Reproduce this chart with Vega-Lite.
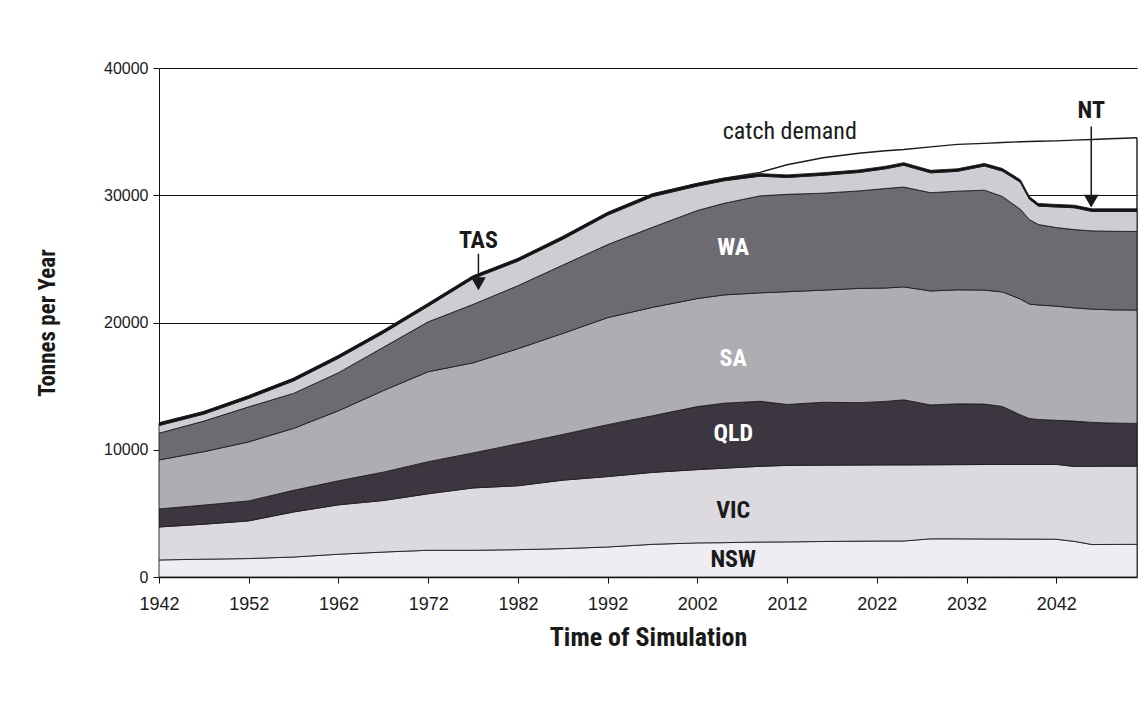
{
  "$schema": "https://vega.github.io/schema/vega-lite/v6.json",
  "autosize": {"type": "none"},
  "width": 978,
  "height": 509,
  "padding": {"left": 159, "top": 68, "right": 10, "bottom": 129},
  "background": "white",
  "config": {
    "font": "Roboto Condensed, DejaVu Sans Condensed, Liberation Sans Narrow, Liberation Sans, sans-serif",
    "view": {"stroke": null},
    "axis": {
      "domainColor": "#111111",
      "tickColor": "#111111",
      "labelColor": "#1a1a1a",
      "titleColor": "#1a1a1a",
      "labelFont": "Liberation Sans",
      "titleFont": "Roboto Condensed, DejaVu Sans Condensed, Liberation Sans Narrow, Liberation Sans, sans-serif",
      "titleFontWeight": "bold",
      "titleFontSize": 23
    }
  },
  "datasets": {
    "catch": [
      {"year": 1942, "NSW": 1340, "VIC": 2590, "QLD": 1420, "SA": 3850, "WA": 2100, "TAS": 600, "NT": 200, "demand": 12100},
      {"year": 1947, "NSW": 1400, "VIC": 2750, "QLD": 1500, "SA": 4200, "WA": 2400, "TAS": 550, "NT": 200, "demand": 13000},
      {"year": 1952, "NSW": 1450, "VIC": 2960, "QLD": 1570, "SA": 4640, "WA": 2750, "TAS": 670, "NT": 200, "demand": 14240},
      {"year": 1957, "NSW": 1570, "VIC": 3540, "QLD": 1700, "SA": 4870, "WA": 2750, "TAS": 980, "NT": 200, "demand": 15610},
      {"year": 1962, "NSW": 1790, "VIC": 3880, "QLD": 1890, "SA": 5500, "WA": 2990, "TAS": 1140, "NT": 200, "demand": 17390},
      {"year": 1967, "NSW": 1960, "VIC": 4050, "QLD": 2230, "SA": 6410, "WA": 3400, "TAS": 1110, "NT": 200, "demand": 19360},
      {"year": 1972, "NSW": 2100, "VIC": 4440, "QLD": 2520, "SA": 7070, "WA": 3920, "TAS": 1230, "NT": 200, "demand": 21480},
      {"year": 1977, "NSW": 2100, "VIC": 4900, "QLD": 2750, "SA": 7080, "WA": 4590, "TAS": 2030, "NT": 200, "demand": 23650},
      {"year": 1982, "NSW": 2150, "VIC": 5020, "QLD": 3300, "SA": 7470, "WA": 4950, "TAS": 1930, "NT": 200, "demand": 25020},
      {"year": 1987, "NSW": 2230, "VIC": 5380, "QLD": 3590, "SA": 7940, "WA": 5370, "TAS": 2030, "NT": 200, "demand": 26740},
      {"year": 1992, "NSW": 2360, "VIC": 5530, "QLD": 4080, "SA": 8410, "WA": 5740, "TAS": 2320, "NT": 200, "demand": 28640},
      {"year": 1997, "NSW": 2570, "VIC": 5650, "QLD": 4450, "SA": 8520, "WA": 6290, "TAS": 2420, "NT": 200, "demand": 30100},
      {"year": 2002, "NSW": 2680, "VIC": 5760, "QLD": 4950, "SA": 8490, "WA": 6920, "TAS": 1920, "NT": 200, "demand": 30920},
      {"year": 2005, "NSW": 2700, "VIC": 5850, "QLD": 5110, "SA": 8510, "WA": 7200, "TAS": 1770, "NT": 200, "demand": 31340},
      {"year": 2009, "NSW": 2750, "VIC": 5950, "QLD": 5110, "SA": 8520, "WA": 7620, "TAS": 1550, "NT": 200, "demand": 31800},
      {"year": 2012, "NSW": 2760, "VIC": 6010, "QLD": 4790, "SA": 8860, "WA": 7650, "TAS": 1330, "NT": 200, "demand": 32400},
      {"year": 2016, "NSW": 2790, "VIC": 6000, "QLD": 4940, "SA": 8810, "WA": 7620, "TAS": 1410, "NT": 200, "demand": 32950},
      {"year": 2020, "NSW": 2820, "VIC": 5980, "QLD": 4900, "SA": 8980, "WA": 7660, "TAS": 1450, "NT": 200, "demand": 33300},
      {"year": 2023, "NSW": 2830, "VIC": 5980, "QLD": 4990, "SA": 8910, "WA": 7820, "TAS": 1550, "NT": 200, "demand": 33500},
      {"year": 2025, "NSW": 2830, "VIC": 5980, "QLD": 5110, "SA": 8880, "WA": 7840, "TAS": 1720, "NT": 200, "demand": 33600},
      {"year": 2028, "NSW": 3000, "VIC": 5820, "QLD": 4700, "SA": 8960, "WA": 7720, "TAS": 1560, "NT": 200, "demand": 33800},
      {"year": 2031, "NSW": 3000, "VIC": 5830, "QLD": 4780, "SA": 8960, "WA": 7750, "TAS": 1560, "NT": 200, "demand": 34000},
      {"year": 2034, "NSW": 2990, "VIC": 5850, "QLD": 4750, "SA": 8960, "WA": 7850, "TAS": 1900, "NT": 200, "demand": 34080},
      {"year": 2036, "NSW": 2990, "VIC": 5860, "QLD": 4550, "SA": 9000, "WA": 7500, "TAS": 2000, "NT": 200, "demand": 34140},
      {"year": 2038, "NSW": 2980, "VIC": 5870, "QLD": 3890, "SA": 9110, "WA": 7050, "TAS": 2120, "NT": 200, "demand": 34200},
      {"year": 2039, "NSW": 2980, "VIC": 5870, "QLD": 3600, "SA": 9000, "WA": 6640, "TAS": 1610, "NT": 200, "demand": 34220},
      {"year": 2040, "NSW": 2980, "VIC": 5870, "QLD": 3530, "SA": 9000, "WA": 6320, "TAS": 1450, "NT": 200, "demand": 34240},
      {"year": 2042, "NSW": 2970, "VIC": 5880, "QLD": 3460, "SA": 8980, "WA": 6170, "TAS": 1620, "NT": 200, "demand": 34270},
      {"year": 2044, "NSW": 2800, "VIC": 5890, "QLD": 3560, "SA": 8900, "WA": 6150, "TAS": 1720, "NT": 200, "demand": 34330},
      {"year": 2046, "NSW": 2550, "VIC": 6150, "QLD": 3450, "SA": 8900, "WA": 6150, "TAS": 1530, "NT": 200, "demand": 34380},
      {"year": 2048, "NSW": 2560, "VIC": 6150, "QLD": 3390, "SA": 8900, "WA": 6170, "TAS": 1560, "NT": 200, "demand": 34440},
      {"year": 2051, "NSW": 2570, "VIC": 6140, "QLD": 3360, "SA": 8910, "WA": 6170, "TAS": 1580, "NT": 200, "demand": 34520}
    ],
    "labels": [
      {"text": "WA", "year": 2006, "value": 25850, "tone": "light"},
      {"text": "SA", "year": 2006, "value": 17120, "tone": "light"},
      {"text": "QLD", "year": 2006, "value": 11230, "tone": "light"},
      {"text": "VIC", "year": 2006, "value": 5170, "tone": "dark"},
      {"text": "NSW", "year": 2006, "value": 1320, "tone": "dark"},
      {"text": "TAS", "year": 1977.6, "value": 26400, "tone": "dark"},
      {"text": "NT", "year": 2045.9, "value": 36630, "tone": "dark"}
    ],
    "notes": [
      {"text": "catch demand", "year": 2012.3, "value": 35000}
    ],
    "arrows": [
      {"name": "TAS", "year": 1977.6, "from": 25400, "to": 22650},
      {"name": "NT", "year": 2045.9, "from": 35400, "to": 29150}
    ]
  },
  "layer": [
    {
      "data": {"name": "catch"},
      "mark": {"type": "line", "color": "#1a1a1a", "strokeWidth": 1.4},
      "encoding": {
        "x": {"field": "year", "type": "quantitative", "title": "Time of Simulation",
          "scale": {"domain": [1942, 2051], "nice": false, "zero": false},
          "axis": {"values": [1942, 1952, 1962, 1972, 1982, 1992, 2002, 2012, 2022, 2032, 2042], "format": "d", "grid": false, "tickSize": 6, "domainWidth": 1.5, "labelFontSize": 18, "labelPadding": 12, "titlePadding": 11, "titleFontSize": 26, "labelFlush": false}},
        "y": {"field": "demand", "type": "quantitative", "title": "Tonnes per Year",
          "scale": {"domain": [0, 40000], "nice": false},
          "axis": {"values": [0, 10000, 20000, 30000, 40000], "format": "d", "grid": true, "gridColor": "#111111", "gridWidth": 1.2, "gridOpacity": 1, "tickSize": 6, "labelFontSize": 16, "labelPadding": 5, "titlePadding": 44}}
      }
    },
    {
      "data": {"name": "catch"},
      "transform": [{"filter": "datum.year == 2051"}],
      "mark": {"type": "rule", "color": "#1a1a1a", "strokeWidth": 1.4},
      "encoding": {
        "x": {"field": "year", "type": "quantitative", "title": "Time of Simulation"},
        "y": {"field": "demand", "type": "quantitative", "title": "Tonnes per Year"},
        "y2": {"datum": 0}
      }
    },
    {
      "data": {"name": "catch"},
      "transform": [
        {"fold": ["NSW", "VIC", "QLD", "SA", "WA", "TAS", "NT"], "as": ["state", "tonnes"]},
        {"calculate": "indexof(['NSW','VIC','QLD','SA','WA','TAS','NT'], datum.state)", "as": "stackIndex"}
      ],
      "mark": {"type": "area", "stroke": "#1e1e1e", "strokeWidth": 0.9, "opacity": 1},
      "encoding": {
        "x": {"field": "year", "type": "quantitative", "title": "Time of Simulation"},
        "y": {"field": "tonnes", "type": "quantitative", "stack": "zero", "title": "Tonnes per Year"},
        "order": {"field": "stackIndex", "type": "quantitative", "sort": "ascending"},
        "color": {"field": "state", "type": "nominal", "legend": null,
          "scale": {"domain": ["NSW", "VIC", "QLD", "SA", "WA", "TAS", "NT"],
            "range": ["#efedf1", "#dcd9df", "#3b3640", "#afacb3", "#6e6a72", "#cfccd3", "#111111"]}}
      }
    },
    {
      "data": {"name": "labels"},
      "mark": {"type": "text", "fontWeight": "bold", "fontSize": 24, "align": "center", "baseline": "middle"},
      "encoding": {
        "x": {"field": "year", "type": "quantitative", "title": "Time of Simulation"},
        "y": {"field": "value", "type": "quantitative", "title": "Tonnes per Year"},
        "text": {"field": "text"},
        "color": {"condition": {"test": "datum.tone == 'light'", "value": "#ffffff"}, "value": "#1a1a1a"}
      }
    },
    {
      "data": {"name": "notes"},
      "mark": {"type": "text", "fontSize": 24, "fontWeight": "normal", "align": "center", "baseline": "middle", "color": "#1a1a1a"},
      "encoding": {
        "x": {"field": "year", "type": "quantitative", "title": "Time of Simulation"},
        "y": {"field": "value", "type": "quantitative", "title": "Tonnes per Year"},
        "text": {"field": "text"}
      }
    },
    {
      "data": {"name": "arrows"},
      "mark": {"type": "rule", "color": "#1a1a1a", "strokeWidth": 1.5},
      "encoding": {
        "x": {"field": "year", "type": "quantitative", "title": "Time of Simulation"},
        "y": {"field": "from", "type": "quantitative", "title": "Tonnes per Year"},
        "y2": {"field": "to"}
      }
    },
    {
      "data": {"name": "arrows"},
      "mark": {"type": "point", "shape": "triangle-down", "filled": true, "color": "#1a1a1a", "size": 220, "opacity": 1, "yOffset": -5},
      "encoding": {
        "x": {"field": "year", "type": "quantitative", "title": "Time of Simulation"},
        "y": {"field": "to", "type": "quantitative", "title": "Tonnes per Year"}
      }
    }
  ]
}
